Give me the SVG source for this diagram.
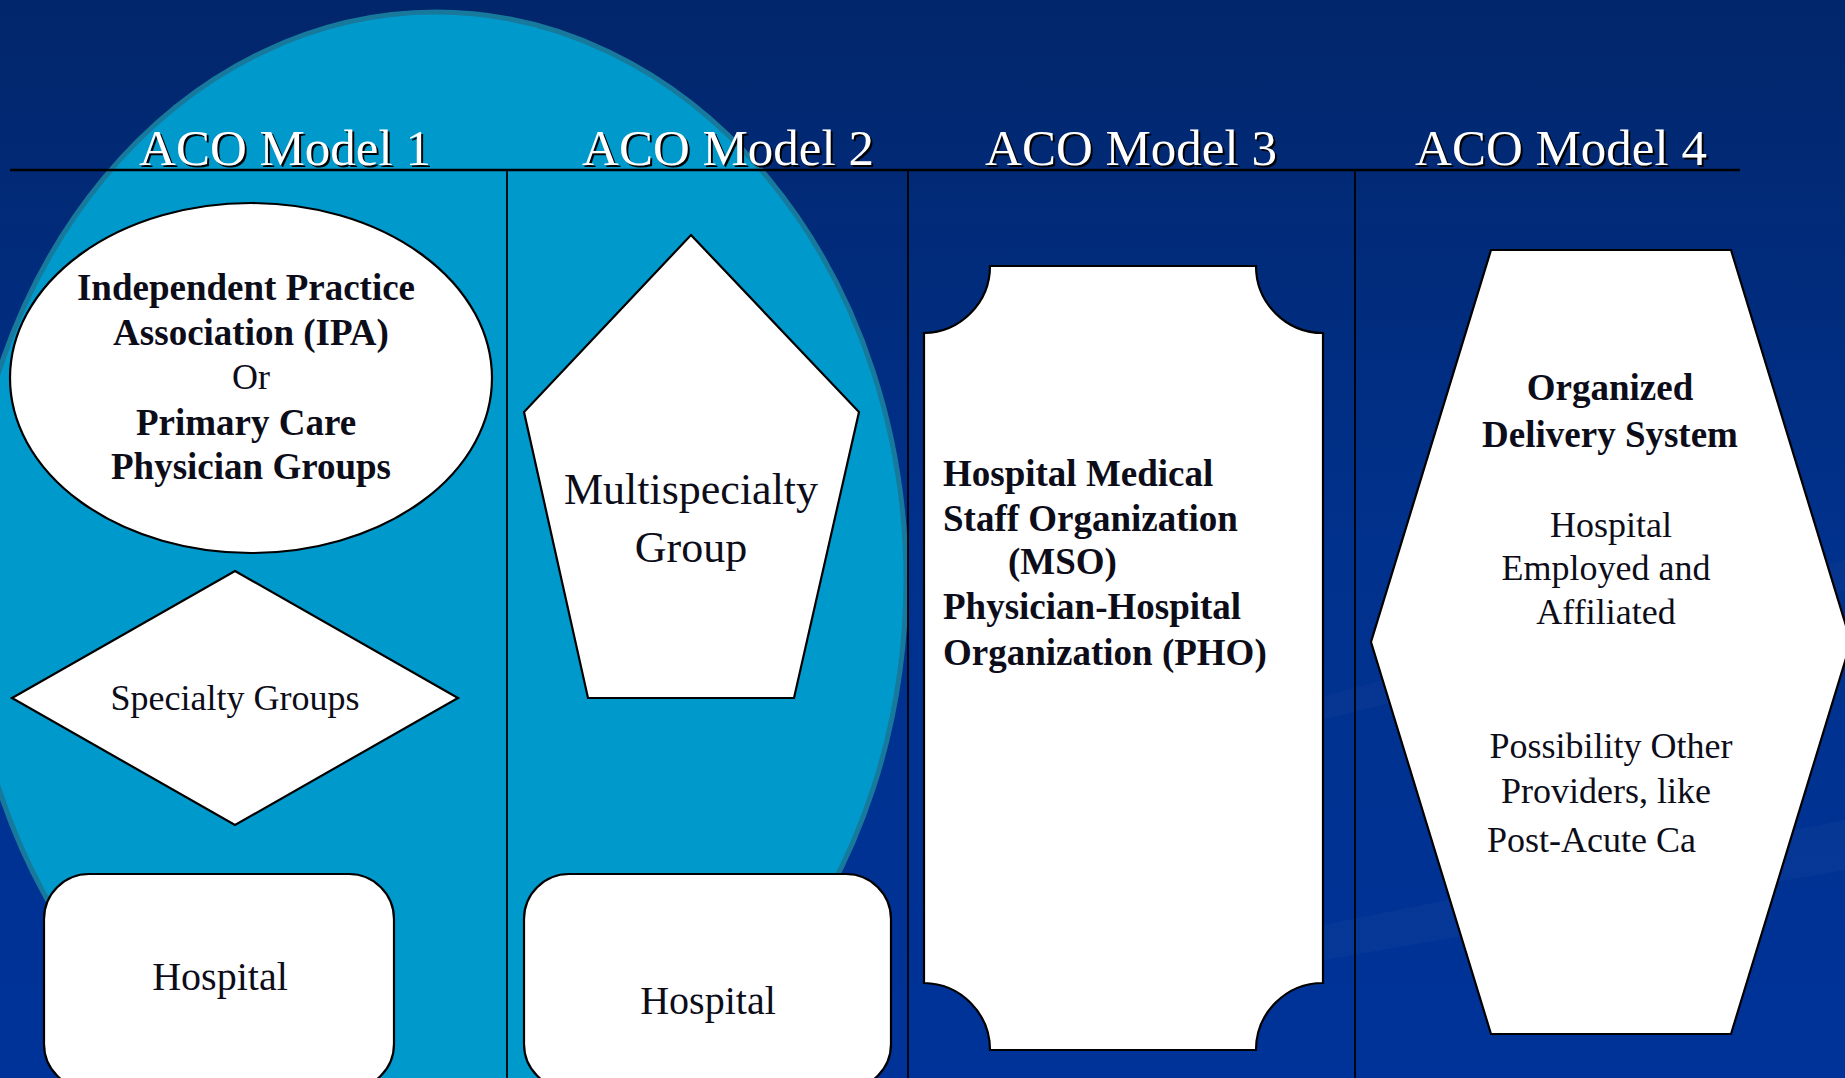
<svg xmlns="http://www.w3.org/2000/svg" width="1845" height="1078" viewBox="0 0 1845 1078">
<defs>
<linearGradient id="bg" x1="0" y1="0" x2="0" y2="1">
<stop offset="0" stop-color="#02266b"/>
<stop offset="0.5" stop-color="#00318c"/>
<stop offset="1" stop-color="#003399"/>
</linearGradient>
</defs>
<style>
.shape{fill:#ffffff;stroke:#000000;stroke-width:2.2}
.title{font-family:"Liberation Serif",serif;font-size:51px;text-anchor:middle}
.tw{fill:#ffffff}
.ts{fill:#000000}
.b{font-family:"Liberation Serif",serif;font-weight:bold;font-size:37px;fill:#0d0d1a}
.r{font-family:"Liberation Serif",serif;font-size:36px;fill:#0d0d1a}
.c{text-anchor:middle}
.grid{stroke:#000000;fill:none}
</style>
<rect x="0" y="0" width="1845" height="1078" fill="url(#bg)"/>
<g id="streaks" fill="#ffffff" opacity="0.025">
<path d="M1000 780 L1845 560 L1845 590 L1000 800 Z"/>
<path d="M1150 960 L1845 820 L1845 870 L1150 990 Z"/>
</g>
<ellipse id="cluster" cx="436" cy="580" rx="470" ry="568" fill="#0099cc" stroke="#177a9c" stroke-width="5"/>
<g id="connectors">
<line class="grid" x1="10" y1="170" x2="1740" y2="170" stroke-width="2.5"/>
<line class="grid" x1="507" y1="170" x2="507" y2="1078" stroke-width="1.8"/>
<line class="grid" x1="908" y1="170" x2="908" y2="1078" stroke-width="1.8"/>
<line class="grid" x1="1355" y1="170" x2="1355" y2="1078" stroke-width="1.8"/>
</g>
<g id="titles">
<text class="title ts" x="287" y="167">ACO Model 1</text>
<text class="title tw" x="285" y="165">ACO Model 1</text>
<text class="title ts" x="730" y="167">ACO Model 2</text>
<text class="title tw" x="728" y="165">ACO Model 2</text>
<text class="title ts" x="1133" y="167">ACO Model 3</text>
<text class="title tw" x="1131" y="165">ACO Model 3</text>
<text class="title ts" x="1563" y="167">ACO Model 4</text>
<text class="title tw" x="1561" y="165">ACO Model 4</text>
</g>
<g id="ipa">
<ellipse class="shape" cx="251" cy="378" rx="241" ry="175"/>
<text class="b c" x="246" y="300">Independent Practice</text>
<text class="b c" x="251" y="345">Association (IPA)</text>
<text class="r c" x="251" y="389">Or</text>
<text class="b c" x="246" y="435">Primary Care</text>
<text class="b c" x="251" y="479">Physician Groups</text>
</g>
<g id="specialty">
<polygon class="shape" points="235,571 458,698 235,825 12,698"/>
<text class="r c" x="235" y="710">Specialty Groups</text>
</g>
<g id="hospital1">
<rect class="shape" x="44" y="874" width="350" height="215" rx="45" ry="45"/>
<text class="r c" x="220" y="990" style="font-size:40px">Hospital</text>
</g>
<g id="multispecialty">
<polygon class="shape" points="691,235 859,412 794,698 588,698 524,412"/>
<text class="r c" x="691" y="504" style="font-size:44px">Multispecialty</text>
<text class="r c" x="691" y="562" style="font-size:44px">Group</text>
</g>
<g id="hospital2">
<rect class="shape" x="524" y="874" width="367" height="215" rx="45" ry="45"/>
<text class="r c" x="708" y="1014" style="font-size:40px">Hospital</text>
</g>
<g id="mso">
<path class="shape" d="M990 266 L1256 266 A67 67 0 0 0 1323 333 L1323 983 A67 67 0 0 0 1256 1050 L990 1050 A67 67 0 0 0 924 983 L924 333 A67 67 0 0 0 990 266 Z"/>
<text class="b" x="943" y="486">Hospital Medical</text>
<text class="b" x="943" y="531">Staff Organization</text>
<text class="b" x="1008" y="574">(MSO)</text>
<text class="b" x="943" y="619">Physician-Hospital</text>
<text class="b" x="943" y="665">Organization (PHO)</text>
</g>
<g id="ods">
<polygon class="shape" points="1491,250 1731,250 1851,642 1731,1034 1491,1034 1371,642"/>
<text class="b c" x="1610" y="400">Organized</text>
<text class="b c" x="1610" y="447">Delivery System</text>
<text class="r c" x="1611" y="537">Hospital</text>
<text class="r c" x="1606" y="580">Employed and</text>
<text class="r c" x="1606" y="624">Affiliated</text>
<text class="r c" x="1611" y="758">Possibility Other</text>
<text class="r c" x="1606" y="803">Providers, like</text>
<text class="r" x="1487" y="852">Post-Acute Ca</text>
</g>
</svg>
